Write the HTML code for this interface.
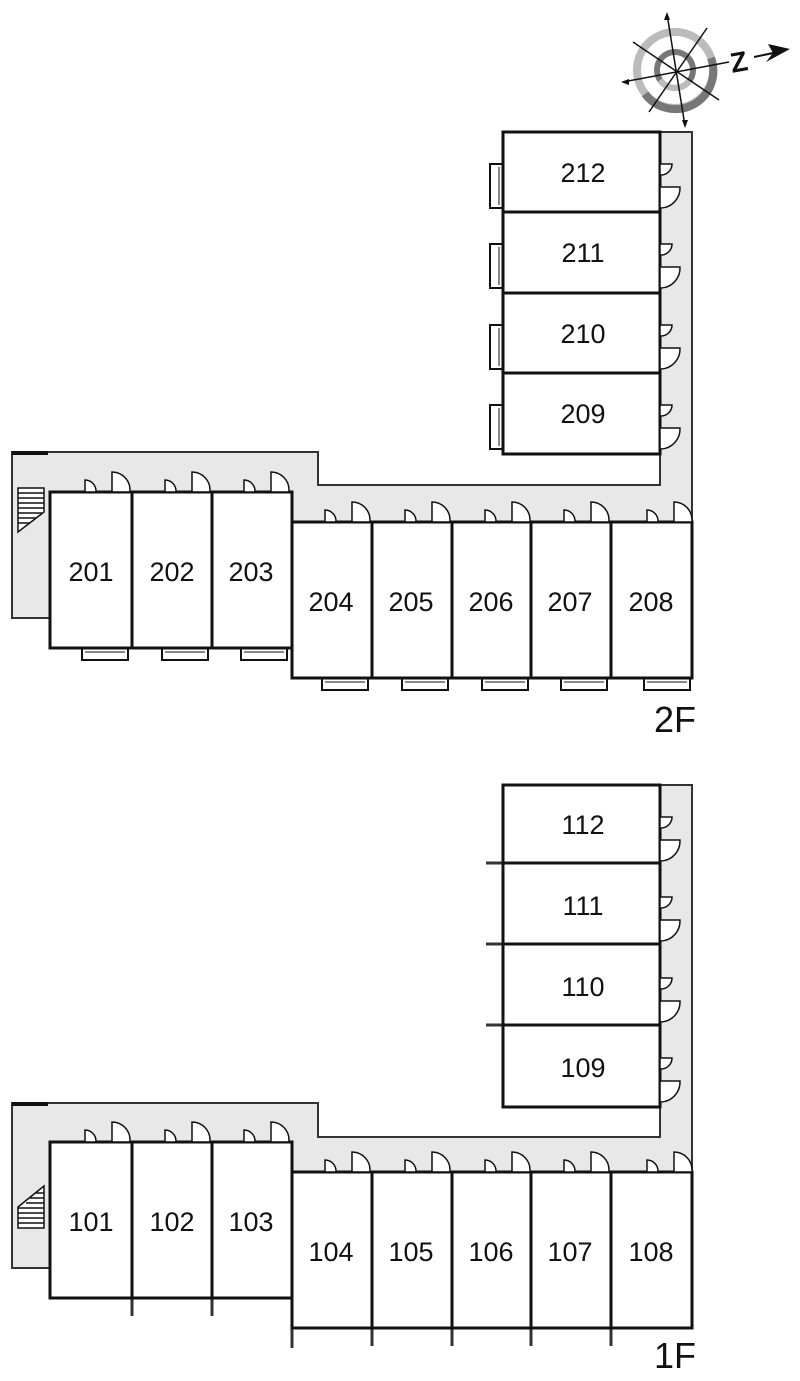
<!DOCTYPE html>
<html><head><meta charset="utf-8"><style>
html,body{margin:0;padding:0;background:#fff}
svg{display:block}
text{font-family:"Liberation Sans",sans-serif;fill:#111}
</style></head><body>
<svg width="800" height="1381" viewBox="0 0 800 1381" xmlns="http://www.w3.org/2000/svg">
<defs>
<g id="dh" fill="#fff" stroke="#111" stroke-width="1.5">
 <path d="M35,0 V-12 A11,11 0 0 1 46,-1 V0 Z"/>
 <path d="M62,0 V-20 A18,18 0 0 1 80,-2 V0 Z"/>
</g>
<g id="dv" fill="#fff" stroke="#111" stroke-width="1.5">
 <path d="M0,32 H12 A11,11 0 0 1 1,43 H0 Z"/>
 <path d="M0,55 H20 A20,20 0 0 1 1,76 H0 Z"/>
</g>
<g id="balh" fill="#fff" stroke="#111" stroke-width="2">
 <rect x="32" y="0" width="46" height="12"/>
 <line x1="35" y1="4" x2="75" y2="4" stroke-width="1"/>
</g>
<g id="balv" fill="#fff" stroke="#111" stroke-width="2">
 <rect x="-13" y="32" width="13" height="44"/>
 <line x1="-4" y1="35" x2="-4" y2="73" stroke-width="1"/>
</g>
</defs>

<!-- ========== 2F ========== -->
<path d="M12,452 H318 V485 H660 V132 H692 V522 H292 V492 H50 V618 H12 Z" fill="#e8e8e8" stroke="#333" stroke-width="2"/>
<line x1="12" y1="453" x2="48" y2="453" stroke="#111" stroke-width="4"/>
<!-- stairs -->
<g stroke="#111" stroke-width="1.5" fill="#fff">
<path d="M18,488 H44 V512 L18,532 Z"/>
<line x1="18" y1="493" x2="44" y2="493"/><line x1="18" y1="498" x2="44" y2="498"/>
<line x1="18" y1="503" x2="44" y2="503"/><line x1="18" y1="508" x2="44" y2="508"/>
<line x1="18" y1="513" x2="42" y2="513"/><line x1="18" y1="518" x2="36" y2="518"/>
<line x1="18" y1="523" x2="30" y2="523"/>
</g>
<!-- balconies -->
<use href="#balh" x="50" y="648"/><use href="#balh" x="130" y="648"/><use href="#balh" x="209" y="648"/>
<use href="#balh" x="290" y="678"/><use href="#balh" x="370" y="678"/><use href="#balh" x="450" y="678"/><use href="#balh" x="529" y="678"/><use href="#balh" x="612" y="678"/>
<use href="#balv" x="503" y="132"/><use href="#balv" x="503" y="212"/><use href="#balv" x="503" y="293"/><use href="#balv" x="503" y="373"/>
<!-- units -->
<g fill="#fff" stroke="#111" stroke-width="3">
<rect x="50" y="492" width="82" height="156"/><rect x="132" y="492" width="80" height="156"/><rect x="212" y="492" width="80" height="156"/>
<rect x="292" y="522" width="80" height="156"/><rect x="372" y="522" width="80" height="156"/><rect x="452" y="522" width="79" height="156"/><rect x="531" y="522" width="80" height="156"/><rect x="611" y="522" width="81" height="156"/>
<rect x="503" y="132" width="157" height="80"/><rect x="503" y="212" width="157" height="81"/><rect x="503" y="293" width="157" height="80"/><rect x="503" y="373" width="157" height="81"/>
</g>
<use href="#dh" x="50" y="492"/><use href="#dh" x="130" y="492"/><use href="#dh" x="209" y="492"/>
<use href="#dh" x="290" y="522"/><use href="#dh" x="370" y="522"/><use href="#dh" x="450" y="522"/><use href="#dh" x="529" y="522"/><use href="#dh" x="612" y="522"/>
<use href="#dv" x="660" y="132"/><use href="#dv" x="660" y="212"/><use href="#dv" x="660" y="293"/><use href="#dv" x="660" y="373"/>
<g font-size="27" text-anchor="middle">
<text x="91" y="581">201</text><text x="172" y="581">202</text><text x="251" y="581">203</text>
<text x="331" y="611">204</text><text x="411" y="611">205</text><text x="491" y="611">206</text><text x="570" y="611">207</text><text x="651" y="611">208</text>
<text x="583" y="182">212</text><text x="583" y="262">211</text><text x="583" y="343">210</text><text x="583" y="423">209</text>
</g>
<text x="654" y="732" font-size="36">2F</text>

<!-- ========== 1F ========== -->
<path d="M12,1103 H318 V1137 H660 V785 H692 V1172 H292 V1142 H50 V1268 H12 Z" fill="#e8e8e8" stroke="#333" stroke-width="2"/>
<line x1="12" y1="1104" x2="48" y2="1104" stroke="#111" stroke-width="4"/>
<g stroke="#111" stroke-width="1.5" fill="#fff">
<path d="M18,1207 L44,1186 V1228 H18 Z"/>
<line x1="26" y1="1203" x2="44" y2="1203"/><line x1="18" y1="1208" x2="44" y2="1208"/>
<line x1="18" y1="1213" x2="44" y2="1213"/><line x1="18" y1="1218" x2="44" y2="1218"/>
<line x1="18" y1="1223" x2="44" y2="1223"/><line x1="36" y1="1193" x2="44" y2="1193"/><line x1="30" y1="1198" x2="44" y2="1198"/>
</g>
<!-- stubs -->
<g stroke="#333" stroke-width="3">
<line x1="132" y1="1298" x2="132" y2="1316"/><line x1="212" y1="1298" x2="212" y2="1316"/>
<line x1="292" y1="1328" x2="292" y2="1348"/><line x1="372" y1="1328" x2="372" y2="1346"/><line x1="452" y1="1328" x2="452" y2="1346"/><line x1="531" y1="1328" x2="531" y2="1346"/><line x1="611" y1="1328" x2="611" y2="1346"/>
<line x1="486" y1="863" x2="503" y2="863"/><line x1="486" y1="944" x2="503" y2="944"/><line x1="486" y1="1025" x2="503" y2="1025"/>
</g>
<g fill="#fff" stroke="#111" stroke-width="3">
<rect x="50" y="1142" width="82" height="156"/><rect x="132" y="1142" width="80" height="156"/><rect x="212" y="1142" width="80" height="156"/>
<rect x="292" y="1172" width="80" height="156"/><rect x="372" y="1172" width="80" height="156"/><rect x="452" y="1172" width="79" height="156"/><rect x="531" y="1172" width="80" height="156"/><rect x="611" y="1172" width="81" height="156"/>
<rect x="503" y="785" width="157" height="78"/><rect x="503" y="863" width="157" height="81"/><rect x="503" y="944" width="157" height="81"/><rect x="503" y="1025" width="157" height="82"/>
</g>
<use href="#dh" x="50" y="1142"/><use href="#dh" x="130" y="1142"/><use href="#dh" x="209" y="1142"/>
<use href="#dh" x="290" y="1172"/><use href="#dh" x="370" y="1172"/><use href="#dh" x="450" y="1172"/><use href="#dh" x="529" y="1172"/><use href="#dh" x="612" y="1172"/>
<use href="#dv" x="660" y="785"/><use href="#dv" x="660" y="865"/><use href="#dv" x="660" y="946"/><use href="#dv" x="660" y="1026"/>
<g font-size="27" text-anchor="middle">
<text x="91" y="1231">101</text><text x="172" y="1231">102</text><text x="251" y="1231">103</text>
<text x="331" y="1261">104</text><text x="411" y="1261">105</text><text x="491" y="1261">106</text><text x="570" y="1261">107</text><text x="651" y="1261">108</text>
<text x="583" y="834">112</text><text x="583" y="915">111</text><text x="583" y="996">110</text><text x="583" y="1077">109</text>
</g>
<text x="654" y="1368" font-size="36">1F</text>

<!-- compass -->
<g transform="translate(675,70)">
<circle r="38" fill="none" stroke="#bbb" stroke-width="8"/>
<path d="M36,-12 A38,38 0 0 1 -30,24" fill="none" stroke="#777" stroke-width="8"/>
<circle r="18" fill="none" stroke="#777" stroke-width="6"/>
<path d="M-15,10 A18,18 0 0 0 15,10" fill="none" stroke="#bbb" stroke-width="6"/>
<g stroke="#111" stroke-width="1.5">
<line x1="-8" y1="-56" x2="10" y2="56"/><line x1="-52" y1="12" x2="54" y2="-8"/>
<line x1="-42" y1="-28" x2="44" y2="30"/><line x1="32" y1="-42" x2="-26" y2="42"/>
</g>
<path d="M-8,-58 L-11,-50 L-5,-50 Z M10,58 L7,50 L13,50 Z M-54,12 L-46,9 L-46,15 Z" fill="#111"/>
</g>
<text x="730" y="71" font-size="28" font-weight="bold" font-family="Liberation Serif" transform="rotate(-10 742 60)">Z</text>
<line x1="754" y1="57" x2="778" y2="52" stroke="#111" stroke-width="2"/>
<path d="M790,49 L768,44 L773,53 L766,62 Z" fill="#111"/>
</svg>
</body></html>
